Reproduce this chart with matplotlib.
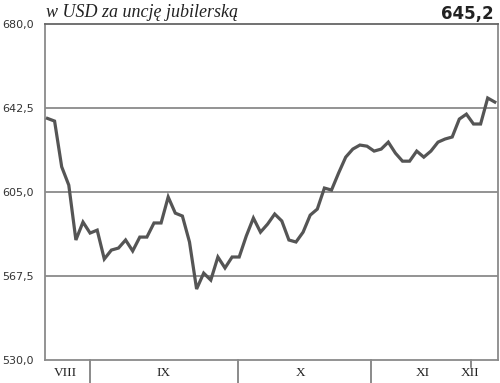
import matplotlib
matplotlib.use("Agg")
import matplotlib.pyplot as plt
import matplotlib.transforms as mtransforms

# --- data ---
prices = [637.9, 636.7, 616.3, 608.1, 583.6, 591.6, 586.7, 588.0, 575.1, 579.1,
          580.0, 583.6, 578.7, 584.9, 584.9, 591.2, 591.2, 602.8, 595.6, 594.3,
          582.7, 561.7, 568.8, 565.7, 576.0, 571.1, 576.0, 576.0, 585.4, 593.4,
          587.1, 590.7, 595.2, 592.1, 583.6, 582.7, 587.1, 594.7, 597.4, 606.8,
          605.9, 613.5, 620.6, 624.2, 626.0, 625.5, 623.3, 624.2, 627.3, 622.4,
          618.8, 618.8, 623.3, 620.6, 623.3, 627.3, 628.7, 629.6, 637.6, 639.8,
          635.4, 635.4, 647.0, 645.2]
month_labels = ["VIII", "IX", "X", "XI", "XII"]
month_label_pos = [2.5, 16.3, 35.6, 52.9, 59.5]
month_separators = [6.0, 26.8, 45.6]
short_separators = [59.6]
yticks = [530.0, 567.5, 605.0, 642.5, 680.0]
ytick_labels = ["530,0", "567,5", "605,0", "642,5", "680,0"]
title = "w USD za uncję jubilerską"
last_label = "645,2"

fig = plt.figure(figsize=(5.0, 3.83), dpi=100)
ax = fig.add_axes([0.09, 0.06, 0.906, 0.877])

x = list(range(len(prices)))
ax.plot(x, prices, color="#555555", lw=2.3, solid_joinstyle="miter", zorder=3)

ax.set_xlim(-0.35, len(prices) - 1 + 0.45)
ax.set_ylim(530, 680)

ax.set_yticks(yticks)
ax.set_yticklabels(ytick_labels, fontsize=8, color="#333333")
ax.tick_params(axis="y", length=0, pad=8)
ax.set_xticks([])
for yv in yticks[1:-1]:
    ax.axhline(yv, color="#8a8a8a", lw=1.3, zorder=1)

for side in ["left", "right", "bottom"]:
    ax.spines[side].set_color("#8a8a8a")
    ax.spines[side].set_linewidth(1.3)
ax.spines["top"].set_color("#666666")
ax.spines["top"].set_linewidth(1.3)

trans = mtransforms.blended_transform_factory(ax.transData, ax.transAxes)
for s in month_separators:
    ax.plot([s, s], [0, -0.075], transform=trans, color="#777777", lw=1.2, clip_on=False)
for s in short_separators:
    ax.plot([s, s], [0, -0.02], transform=trans, color="#777777", lw=1.2, clip_on=False)
for lab, pos in zip(month_labels, month_label_pos):
    ax.text(pos, -0.04, lab, transform=trans, ha="center", va="center",
            fontsize=9.5, family="Liberation Serif", color="#222222")

fig.text(0.092, 0.968, title, ha="left", va="center", fontsize=13,
         family="Liberation Serif", style="italic", color="#222222")
fig.text(0.988, 0.963, last_label, ha="right", va="center", fontsize=12,
         fontweight="bold", color="#222222")

fig.savefig("out.png", dpi=100)
